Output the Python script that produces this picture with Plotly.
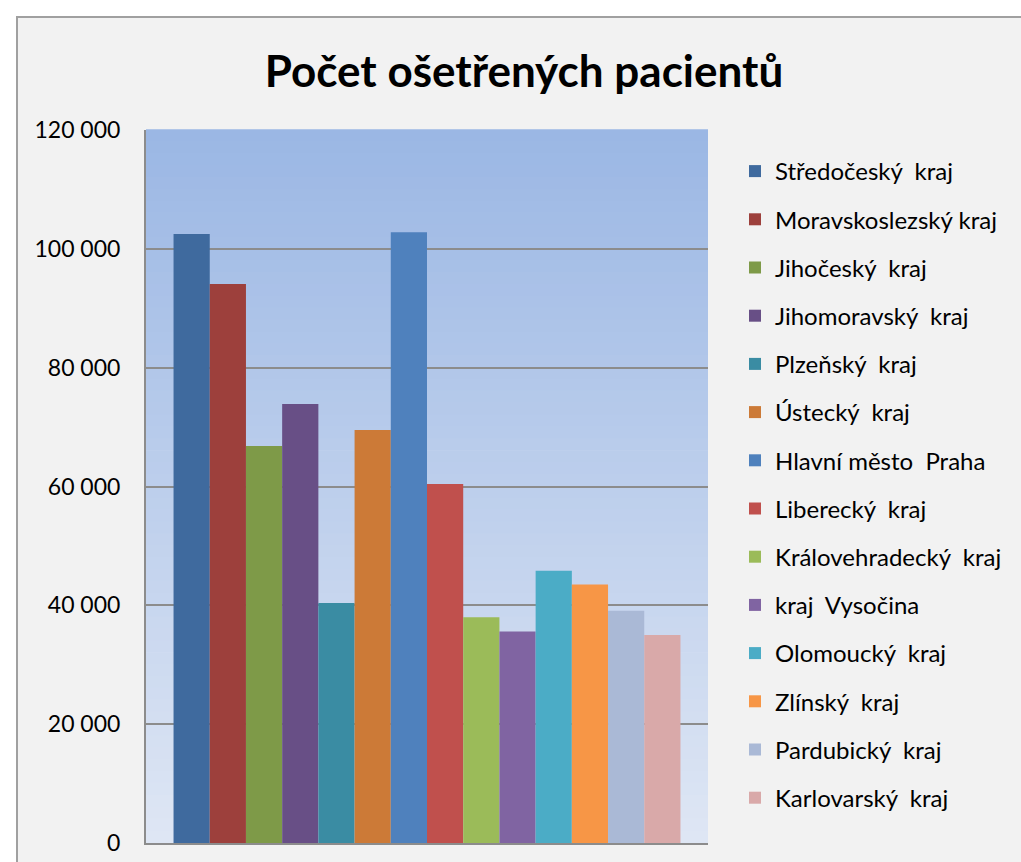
import plotly.graph_objects as go

regions = ["Středočeský  kraj", "Moravskoslezský kraj", "Jihočeský  kraj", "Jihomoravský  kraj",
           "Plzeňský  kraj", "Ústecký  kraj", "Hlavní město  Praha", "Liberecký  kraj",
           "Královehradecký  kraj", "kraj  Vysočina", "Olomoucký  kraj", "Zlínský  kraj",
           "Pardubický  kraj", "Karlovarský  kraj"]
patients = [102500, 94100, 66800, 73900, 40400, 69500, 102800, 60400,
            38000, 35600, 45800, 43500, 39100, 35000]
colors = ["#3F6A9E", "#9D403C", "#7E9A48", "#684F86", "#3A8CA3", "#CC7A37", "#4F81BD",
          "#C0504D", "#9BBB59", "#8064A2", "#4BACC6", "#F79646", "#AAB9D6", "#D9A9A9"]
category = [""]
y_ticks = [0, 20000, 40000, 60000, 80000, 100000, 120000]

W, H = 1021, 862
PL, PR, PT, PB = 146, 708, 130, 843          # plot area in page pixels
L, R, T, B = PL, W - PR, PT, H - PB

fig = go.Figure()
for name, val, col in zip(regions, patients, colors):
    fig.add_trace(go.Bar(x=category, y=[val], name=name, legendgroup=name,
                         marker=dict(color=col, line=dict(width=0))))

pw = PR - PL
ph = PB - PT
def px_x(p):
    return (p - PL) / pw
def px_y(p):
    return (PB - p) / ph

shapes = [dict(type="rect", xref="paper", yref="paper", layer="below",
               x0=px_x(17), x1=px_x(W + 30), y0=px_y(H + 30), y1=px_y(17),
               fillcolor="#F2F2F2", line=dict(color="#A0A0A0", width=2))]
# vertical gradient background of the plot area
top = (0x9B, 0xB7, 0xE4)
bot = (0xDE, 0xE6, 0xF4)
n = 60
for i in range(n):
    t = i / (n - 1)
    c = tuple(round(top[k] + (bot[k] - top[k]) * t) for k in range(3))
    shapes.append(dict(type="rect", xref="paper", yref="paper", layer="below",
                       x0=0, x1=1, y0=1 - (i + 1) / n, y1=1 - i / n + 0.001,
                       fillcolor="rgb(%d,%d,%d)" % c, line=dict(width=0)))

fig.update_layout(
    width=W, height=H,
    margin=dict(l=L, r=R, t=T, b=B, pad=0, autoexpand=False),
    paper_bgcolor="white", plot_bgcolor="rgba(0,0,0,0)",
    barmode="group", bargap=0.098, bargroupgap=0,
    separators=", ",
    font=dict(family="Lato, Open Sans, sans-serif", color="#000000", size=20),
    title=dict(text="<b>Počet ošetřených pacientů</b>", x=524 / W, xanchor="center",
               y=1 - 72 / H, yanchor="middle",
               font=dict(size=44, family="Lato, Open Sans, sans-serif", color="#000000")),
    xaxis=dict(showticklabels=False, showline=True, linecolor="#8C8C8C", linewidth=2,
               ticks="", showgrid=False, range=[-0.5, 0.5], fixedrange=True,
               automargin=False),
    yaxis=dict(range=[0, 120000], tickvals=y_ticks, tickformat=",d",
               showgrid=True, gridcolor="#8C8C8C", gridwidth=2,
               showline=True, linecolor="#8C8C8C", linewidth=2,
               ticks="", tickfont=dict(size=23), ticklabelstandoff=19, zeroline=False,
               automargin=False),
    legend=dict(x=px_x(735), xanchor="left", y=px_y(149), yanchor="top",
                bgcolor="rgba(0,0,0,0)", font=dict(size=24),
                tracegroupgap=14, itemwidth=30, traceorder="grouped"),
    shapes=shapes,
)

fig.write_html("out.html", config={"displayModeBar": False},
               post_script="document.body.style.margin='0px';document.body.style.overflow='hidden';")
